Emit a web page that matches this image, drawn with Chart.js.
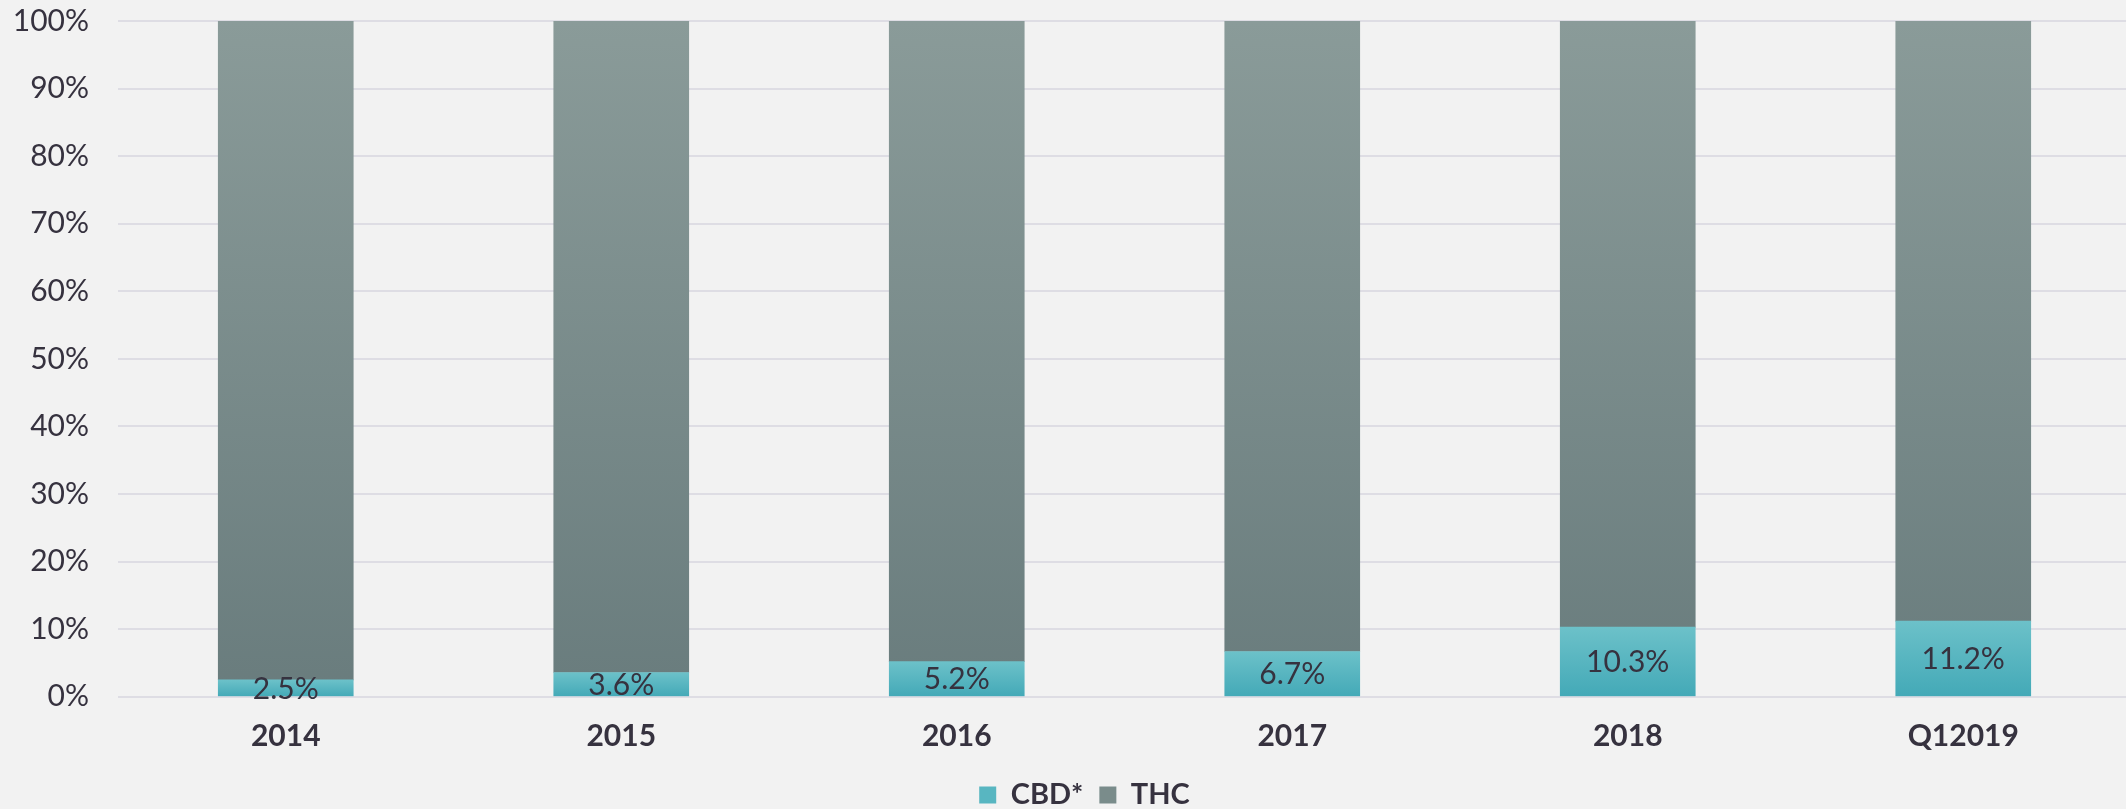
<!DOCTYPE html>
<html>
<head>
<meta charset="utf-8">
<script src="https://cdn.jsdelivr.net/npm/chart.js@4/dist/chart.umd.min.js"></script>
<style>
  html, body { margin: 0; padding: 0; background: #f2f2f2; }
  #c { display: block; }
</style>
</head>
<body>
<canvas id="c" width="2126" height="809"></canvas>
<script>
const categories = ['2014', '2015', '2016', '2017', '2018', 'Q12019'];
const cbdValues = [2.5, 3.6, 5.2, 6.7, 10.3, 11.2];
const thcValues = [97.5, 96.4, 94.8, 93.3, 89.7, 88.8];
const seriesNames = ['CBD*', 'THC'];
const yTickValues = [0, 10, 20, 30, 40, 50, 60, 70, 80, 90, 100];

const TEXT = '#36323f';
const FONT = 'Lato, "Open Sans", sans-serif';
const CBD_TOP = '#6cc1c9', CBD_BOT = '#43a9b7', CBD_SOLID = '#58b6c1';
const THC_TOP = '#8a9b99', THC_BOT = '#697c7d', THC_SOLID = '#7a8c8b';
const PLOT_RIGHT = 2131; // plot area runs slightly past the right edge, as in the original

function cbdFill(ctx) {
  const chart = ctx.chart;
  if (!chart.chartArea || !chart.scales.y || ctx.type !== 'data') return CBD_SOLID;
  const y = chart.scales.y;
  const top = y.getPixelForValue(ctx.raw), bot = y.getPixelForValue(0);
  if (!isFinite(top) || !isFinite(bot) || top === bot) return CBD_SOLID;
  const g = chart.ctx.createLinearGradient(0, top, 0, bot);
  g.addColorStop(0, CBD_TOP);
  g.addColorStop(1, CBD_BOT);
  return g;
}
function thcFill(ctx) {
  const chart = ctx.chart;
  const a = chart.chartArea;
  if (!a) return THC_SOLID;
  const g = chart.ctx.createLinearGradient(0, a.top, 0, a.bottom);
  g.addColorStop(0, THC_TOP);
  g.addColorStop(1, THC_BOT);
  return g;
}

const layoutTweak = {
  id: 'layoutTweak',
  afterLayout(chart) {
    // let the y tick labels extend to the canvas edge (no clipping at the axis box)
    chart.scales.y.left = 0;
    // extend the plot area past the right canvas edge
    const xs = chart.scales.x;
    xs.right = PLOT_RIGHT;
    xs.width = xs.right - xs.left;
    xs.configure();
    chart.chartArea.right = PLOT_RIGHT;
    chart.chartArea.width = PLOT_RIGHT - chart.chartArea.left;
  }
};

const dataLabels = {
  id: 'dataLabels',
  afterDatasetsDraw(chart) {
    const meta = chart.getDatasetMeta(0);
    const c = chart.ctx;
    c.save();
    c.font = '30px ' + FONT;
    c.fillStyle = TEXT;
    c.textAlign = 'center';
    c.textBaseline = 'middle';
    meta.data.forEach((bar, i) => {
      const p = bar.getProps(['x', 'y', 'base'], true);
      const yc = (p.y + p.base) / 2;
      c.fillText(cbdValues[i].toFixed(1) + '%', p.x, yc + 1);
    });
    c.restore();
  }
};

new Chart(document.getElementById('c'), {
  type: 'bar',
  data: {
    labels: categories,
    datasets: [
      { label: seriesNames[0], data: cbdValues, backgroundColor: cbdFill, borderWidth: 0 },
      { label: seriesNames[1], data: thcValues, backgroundColor: thcFill, borderWidth: 0 }
    ]
  },
  options: {
    responsive: false,
    devicePixelRatio: 1,
    animation: false,
    barThickness: 135,
    layout: { padding: { top: 21, left: 38, right: -5, bottom: -10.4 } },
    scales: {
      x: {
        stacked: true,
        afterFit(scale) { scale.height = 67.6; scale.paddingLeft = 0; scale.paddingRight = 0; },
        grid: { display: false, drawTicks: false },
        border: { display: false },
        ticks: {
          color: TEXT,
          font: { family: FONT, size: 30, weight: 'bold' },
          padding: 21.5
        }
      },
      y: {
        stacked: true,
        min: 0,
        max: 100,
        afterFit(scale) { scale.width = 80; scale.paddingTop = 0; scale.paddingBottom = 0; },
        afterBuildTicks(scale) { scale.ticks = yTickValues.map(v => ({ value: v })); },
        border: { display: false },
        grid: { color: '#dedde4', lineWidth: 2, drawTicks: false },
        ticks: {
          color: TEXT,
          font: { family: FONT, size: 30 },
          padding: 29,
          callback: v => v + '%'
        }
      }
    },
    plugins: {
      tooltip: { enabled: false },
      legend: {
        position: 'bottom',
        labels: {
          color: TEXT,
          font: { family: FONT, size: 29, weight: 'bold' },
          boxWidth: 17,
          boxHeight: 17,
          padding: 16,
          generateLabels(chart) {
            const items = Chart.defaults.plugins.legend.labels.generateLabels(chart);
            items[0].fillStyle = CBD_SOLID;
            items[1].fillStyle = THC_SOLID;
            items.forEach(it => { it.strokeStyle = 'rgba(0,0,0,0)'; it.lineWidth = 0; });
            return items;
          }
        }
      }
    }
  },
  plugins: [layoutTweak, dataLabels]
});
</script>
</body>
</html>
